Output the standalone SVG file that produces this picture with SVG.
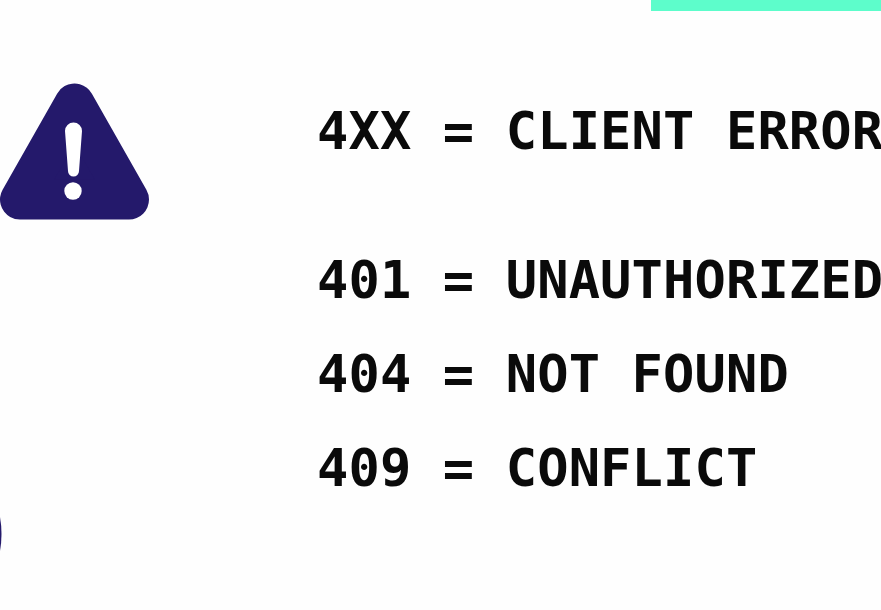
<svg xmlns="http://www.w3.org/2000/svg" width="881" height="610" viewBox="0 0 881 610">
<style>.t{font-family:"DejaVu Sans Mono","Liberation Mono",monospace;font-size:52px;font-weight:700;letter-spacing:.15px;fill:#0a0a0a}</style>
<rect width="881" height="610" fill="#fefefe"/>
<rect x="651" y="0" width="230" height="11" fill="#5dfdcb"/>
<g id="warning-icon">
<path d="M74.5 103.5 L20 199.5 H129 Z" fill="#24196b" stroke="#24196b" stroke-width="40" stroke-linejoin="round"/>
<path d="M65 131 A8.5 8.5 0 0 1 82 131 L79 171 A5.5 5.5 0 0 1 68 171 Z" fill="#fff"/>
<circle cx="73" cy="191" r="8.7" fill="#fff"/>
</g>
<path id="edge-mark" d="M0 517 Q3 534 0 551 Z" fill="#24196b"/>
<g id="text">
<text class="t" x="317" y="149">4XX = CLIENT ERROR</text>
<text class="t" x="317" y="298">401 = UNAUTHORIZED</text>
<text class="t" x="317" y="392">404 = NOT FOUND</text>
<text class="t" x="317" y="486">409 = CONFLICT</text>
</g>
</svg>
